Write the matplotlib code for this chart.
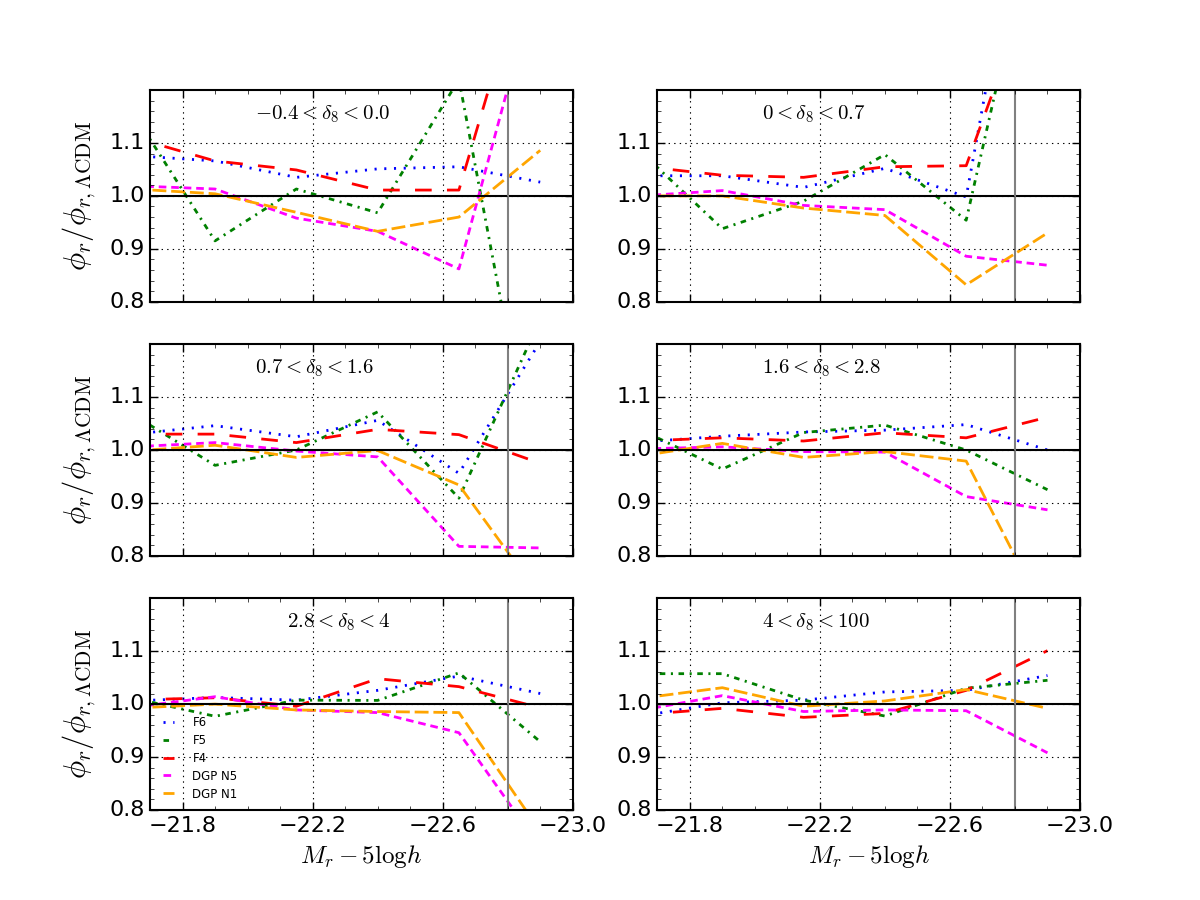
import matplotlib
matplotlib.use('Agg')
import matplotlib.pyplot as plt
from matplotlib.ticker import AutoMinorLocator

plt.style.use('classic')
plt.rcParams['mathtext.fontset'] = 'cm'
plt.rcParams['lines.scale_dashes'] = False

# magnitude bins (first point sits just outside the axis)
mag = [-21.65, -21.9, -22.15, -22.4, -22.65, -22.9]

# density bins, one panel each
bins = [r'$-0.4<\delta_8<0.0$', r'$0<\delta_8<0.7$', r'$0.7<\delta_8<1.6$',
        r'$1.6<\delta_8<2.8$', r'$2.8<\delta_8<4$', r'$4<\delta_8<100$']
label_x = [0.248, 0.248, 0.248, 0.248, 0.323, 0.248]

# ratio to LCDM, one row per panel
f6 = [[1.076, 1.066, 1.035, 1.051, 1.055, 1.026],
      [1.038, 1.038, 1.016, 1.052, 0.998, 1.84],
      [1.030, 1.046, 1.025, 1.056, 0.956, 1.205],
      [1.015, 1.026, 1.034, 1.0375, 1.048, 1.0],
      [1.006, 1.0125, 1.0075, 1.026, 1.053, 1.02],
      [0.9775, 1.0025, 1.0075, 1.023, 1.026, 1.054]]
f5 = [[1.155, 0.915, 1.013, 0.968, 1.22, 0.41],
      [1.083, 0.938, 0.99, 1.078, 0.954, 1.63],
      [1.066, 0.971, 1.0, 1.072, 0.909, 1.247],
      [1.038, 0.964, 1.033, 1.047, 1.0, 0.925],
      [1.011, 0.977, 1.0075, 1.007, 1.059, 0.929],
      [1.0575, 1.0575, 1.0075, 0.9775, 1.03, 1.045]]
f4 = [[1.11, 1.066, 1.049, 1.011, 1.011, 1.53],
      [1.056, 1.039, 1.035, 1.055, 1.057, 1.48],
      [1.03, 1.03, 1.014, 1.039, 1.029, 0.975],
      [1.017, 1.023, 1.017, 1.0325, 1.023, 1.062],
      [1.008, 1.012, 0.996, 1.048, 1.033, 0.993],
      [0.98, 0.992, 0.975, 0.9825, 1.026, 1.101]]
n5 = [[1.019, 1.013, 0.958, 0.933, 0.862, 1.43],
      [1.0, 1.01, 0.982, 0.974, 0.886, 0.869],
      [1.006, 1.014, 0.998, 0.987, 0.818, 0.815],
      [1.002, 1.006, 0.997, 0.996, 0.912, 0.887],
      [0.994, 1.014, 0.989, 0.984, 0.946, 0.73],
      [0.9885, 1.016, 0.986, 0.989, 0.9875, 0.908]]
n1 = [[1.013, 1.004, 0.969, 0.933, 0.96, 1.086],
      [1.0, 1.0, 0.977, 0.963, 0.832, 0.93],
      [0.998, 1.009, 0.986, 0.999, 0.934, 0.723],
      [0.989, 1.0125, 0.986, 0.997, 0.979, 0.68],
      [0.9925, 1.0, 0.989, 0.986, 0.984, 0.76],
      [1.011, 1.031, 0.996, 1.006, 1.0275, 0.992]]

models = ['F6', 'F5', 'F4', 'DGP N5', 'DGP N1']
colors = ['blue', 'green', 'red', 'magenta', 'orange']
dashes = [(1.5, 5.5), (4, 4, 1.5, 4), (12, 11), (5.5, 3.5), (10, 3.5)]

fig, axes = plt.subplots(3, 2, figsize=(12, 9), dpi=100, sharex=True)

for i, ax in enumerate(axes.flat):
    for vals, lab, c, d in zip([f6, f5, f4, n5, n1], models, colors, dashes):
        ax.plot(mag, vals[i], color=c, lw=2, dashes=d, label=lab)
    ax.axhline(1.0, color='k', lw=1.5)
    ax.axvline(-22.8, color='gray', lw=1.5)
    ax.set_xlim(-21.7, -23.0)
    ax.set_ylim(0.8, 1.2)
    ax.set_xticks([-21.8, -22.2, -22.6, -23.0])
    ax.set_yticks([0.8, 0.9, 1.0, 1.1])
    ax.xaxis.set_minor_locator(AutoMinorLocator(4))
    ax.yaxis.set_minor_locator(AutoMinorLocator(5))
    ax.tick_params(labelsize=16, width=1, length=6)
    ax.tick_params(which='minor', length=3)
    ax.grid(True, color='k', linestyle=':', lw=0.8)
    for s in ax.spines.values():
        s.set_linewidth(1.5)
    ax.text(label_x[i], 0.885, bins[i], transform=ax.transAxes,
            ha='left', va='center', fontsize=15)
    if i % 2 == 0:
        ax.set_ylabel(r'$\phi_r/\phi_{r,\Lambda{\rm CDM}}$', fontsize=22,
                      labelpad=8)
    if i >= 4:
        ax.set_xlabel(r'$M_r-5{\rm log}h$', fontsize=18)

axes[2, 0].legend(loc='lower left', frameon=False, fontsize=8.5,
                  handlelength=1.5, handletextpad=1.3, labelspacing=0.42,
                  borderaxespad=0.4)

plt.savefig('out.png', dpi=100)
